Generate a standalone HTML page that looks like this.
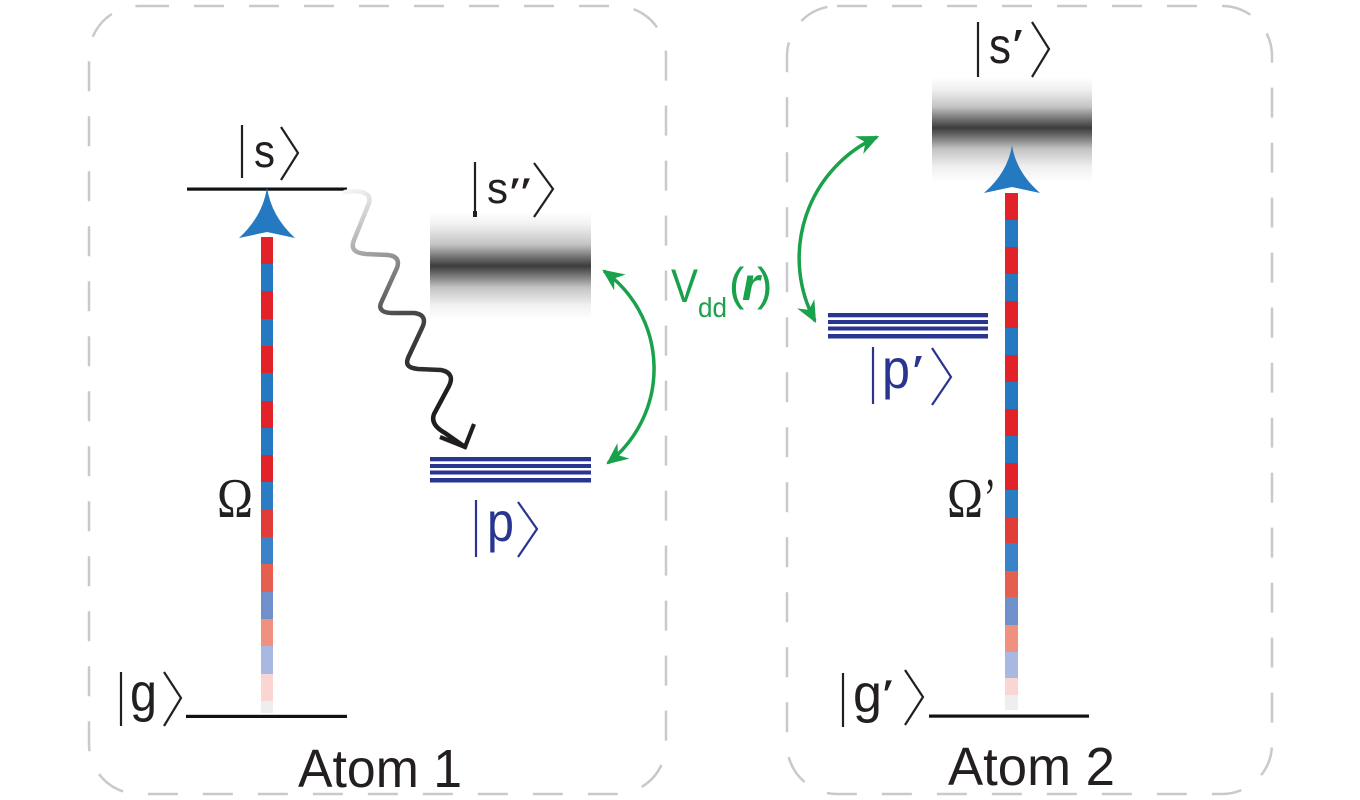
<!DOCTYPE html>
<html><head><meta charset="utf-8"><style>
html,body{margin:0;padding:0;background:#fff;}
svg{display:block;}
.t{font-family:"Liberation Sans","DejaVu Sans",sans-serif;fill:#231f20;}
.serif{font-family:"Liberation Serif",serif;fill:#231f20;}
.ket{stroke:#231f20;stroke-width:2.2;fill:none;}
.ketb{stroke:#2a3590;stroke-width:2.2;fill:none;}
</style></head><body>
<svg width="1360" height="800" viewBox="0 0 1360 800" xmlns="http://www.w3.org/2000/svg">
<defs>
  <linearGradient id="gb1" x1="0" y1="0" x2="0" y2="1">
    <stop offset="0" stop-color="#fff"/>
    <stop offset="0.12" stop-color="#f0f0f0"/>
    <stop offset="0.3" stop-color="#c4c4c4"/>
    <stop offset="0.42" stop-color="#707070"/>
    <stop offset="0.5" stop-color="#3c3c3c"/>
    <stop offset="0.58" stop-color="#707070"/>
    <stop offset="0.7" stop-color="#c4c4c4"/>
    <stop offset="0.86" stop-color="#f0f0f0"/>
    <stop offset="1" stop-color="#fff"/>
  </linearGradient>
  <linearGradient id="gb2" x1="0" y1="0" x2="0" y2="1">
    <stop offset="0" stop-color="#fff"/>
    <stop offset="0.12" stop-color="#f0f0f0"/>
    <stop offset="0.28" stop-color="#c4c4c4"/>
    <stop offset="0.4" stop-color="#707070"/>
    <stop offset="0.48" stop-color="#3c3c3c"/>
    <stop offset="0.56" stop-color="#707070"/>
    <stop offset="0.68" stop-color="#c4c4c4"/>
    <stop offset="0.85" stop-color="#f0f0f0"/>
    <stop offset="1" stop-color="#fff"/>
  </linearGradient>
  <linearGradient id="wg" gradientUnits="userSpaceOnUse" x1="345" y1="192" x2="430" y2="400">
    <stop offset="0" stop-color="#f4f4f4"/>
    <stop offset="0.3" stop-color="#a0a0a0"/>
    <stop offset="0.6" stop-color="#4a4a4a"/>
    <stop offset="1" stop-color="#1e1e1e"/>
  </linearGradient>
  <marker id="gh" markerUnits="userSpaceOnUse" markerWidth="30" markerHeight="30" viewBox="-22 -12 26 24" refX="-2" refY="0" orient="auto-start-reverse">
    <path d="M0,0 L-19,-8.5 L-13,0 L-19,8.5 Z" fill="#1aa14b"/>
  </marker>
</defs>

<!-- dashed boxes -->
<rect x="89" y="6" width="577" height="788" rx="50" ry="50" fill="none" stroke="#c9c9c9" stroke-width="2.5" stroke-dasharray="30 25"/>
<rect x="787" y="6" width="485" height="788" rx="50" ry="50" fill="none" stroke="#c9c9c9" stroke-width="2.5" stroke-dasharray="30 25"/>

<!-- Atom 1 levels -->
<rect x="187" y="187.5" width="160" height="3.2" fill="#111"/>
<rect x="186" y="714.8" width="161" height="3.2" fill="#111"/>

<!-- Atom 1 striped arrow -->
<g>
<rect x="261" y="237" width="12" height="27" fill="#e12329"/>
<rect x="261" y="264" width="12" height="27" fill="#2479c1"/>
<rect x="261" y="291" width="12" height="28" fill="#e12329"/>
<rect x="261" y="319" width="12" height="27" fill="#2479c1"/>
<rect x="261" y="346" width="12" height="27" fill="#e12329"/>
<rect x="261" y="373" width="12" height="28" fill="#2479c1"/>
<rect x="261" y="401" width="12" height="27" fill="#e12329"/>
<rect x="261" y="428" width="12" height="27" fill="#2479c1"/>
<rect x="261" y="455" width="12" height="27" fill="#e12329"/>
<rect x="261" y="482" width="12" height="28" fill="#2a7cc3"/>
<rect x="261" y="510" width="12" height="27" fill="#e03c38"/>
<rect x="261" y="537" width="12" height="27" fill="#3c82c8"/>
<rect x="261" y="564" width="12" height="28" fill="#e65e4e"/>
<rect x="261" y="592" width="12" height="27" fill="#7090cc"/>
<rect x="261" y="619" width="12" height="27" fill="#f0907e"/>
<rect x="261" y="646" width="12" height="28" fill="#a8b8e0"/>
<rect x="261" y="674" width="12" height="27" fill="#f9d6d2"/>
<rect x="261" y="701" width="12" height="12" fill="#eeeeee"/>
</g>
<path d="M267,187 Q263,216 239,238 L267,232 L295,238 Q271,216 267,187 Z" fill="#2479c1"/>

<!-- |s> label -->
<line class="ket" x1="242" y1="125" x2="242" y2="178"/>
<text class="t" x="254" y="167" font-size="46" textLength="21" lengthAdjust="spacingAndGlyphs">s</text>
<polyline class="ket" points="281,127 298,153 281,180"/>

<!-- |g> label -->
<line class="ket" x1="121" y1="672" x2="121" y2="726"/>
<text class="t" x="130" y="711" font-size="54" textLength="27" lengthAdjust="spacingAndGlyphs">g</text>
<polyline class="ket" points="164,672 181,698 164,726"/>

<!-- Omega -->
<text class="serif" x="217" y="517" font-size="56" textLength="36" lengthAdjust="spacingAndGlyphs">Ω</text>

<!-- |s''> box and label -->
<rect x="430" y="212" width="161" height="108" fill="url(#gb1)"/>
<line class="ket" x1="475" y1="162" x2="475" y2="216" stroke-width="2.4"/>
<rect x="473" y="211" width="4" height="6" fill="#231f20"/>
<text class="t" x="487" y="203" font-size="44" textLength="21" lengthAdjust="spacingAndGlyphs">s</text>
<text class="t" x="509" y="206" font-size="40" textLength="22" lengthAdjust="spacingAndGlyphs">′′</text>
<polyline class="ket" points="534,163 553,189 534,217"/>

<!-- |p> levels and label -->
<g fill="#2a3590">
<rect x="430" y="457" width="161" height="4.3"/>
<rect x="430" y="464" width="161" height="4"/>
<rect x="430" y="470.5" width="161" height="4"/>
<rect x="430" y="478" width="161" height="4.5"/>
</g>
<line class="ketb" x1="476" y1="500" x2="476" y2="557"/>
<text x="487" y="541" font-size="56" textLength="27" lengthAdjust="spacingAndGlyphs" style="font-family:'Liberation Sans',sans-serif;fill:#2a3590;">p</text>
<polyline class="ketb" points="518,502 537,529 518,557"/>

<!-- wavy decay arrow -->
<path d="M345,192 C360,190 372,192 369,203 L354,240 C350,250 356,253 366,254 L388,255 C398,256 400,262 396,270 L381,303 C378,310 384,313 392,313 L414,313 C424,314 426,320 422,328 L408,358 C405,366 410,368 418,369 L441,370 C451,372 453,378 449,386 L434,414 C431,422 436,428 445,433 L465,447" fill="none" stroke="url(#wg)" stroke-width="4.5" stroke-linecap="round" stroke-linejoin="round"/>
<polyline points="474,424 465,447 440,437" fill="none" stroke="#1e1e1e" stroke-width="4.2" stroke-linejoin="miter"/>

<!-- green arrow atom 1 -->
<path d="M604,271 A120 120 0 0 1 608,463" fill="none" stroke="#1aa14b" stroke-width="3.5" marker-start="url(#gh)" marker-end="url(#gh)"/>

<!-- Vdd(r) -->
<g style="font-family:'Liberation Sans',sans-serif;fill:#1aa14b;">
<text x="671" y="302" font-size="47" textLength="27" lengthAdjust="spacingAndGlyphs">V</text>
<text x="698" y="317" font-size="28" textLength="29" lengthAdjust="spacingAndGlyphs">dd</text>
<text x="729" y="300" font-size="46">(</text>
<text x="742" y="300" font-size="46" font-weight="bold" font-style="italic">r</text>
<text x="757" y="300" font-size="46">)</text>
</g>

<!-- green arrow atom 2 -->
<path d="M877,137 A133 133 0 0 0 815,321" fill="none" stroke="#1aa14b" stroke-width="3.5" marker-start="url(#gh)" marker-end="url(#gh)"/>

<!-- Atom 2: |s'> box -->
<rect x="932" y="77" width="160" height="106" fill="url(#gb2)"/>
<line class="ket" x1="978" y1="22" x2="978" y2="77"/>
<text class="t" x="989" y="63" font-size="50" textLength="22" lengthAdjust="spacingAndGlyphs">s</text>
<text class="t" x="1012" y="60" font-size="44" textLength="11" lengthAdjust="spacingAndGlyphs">′</text>
<polyline class="ket" points="1032,22 1049,49 1032,77"/>

<!-- Atom 2 striped arrow -->
<g>
<rect x="1005" y="193" width="13" height="27" fill="#e12329"/>
<rect x="1005" y="220" width="13" height="27" fill="#2479c1"/>
<rect x="1005" y="247" width="13" height="27" fill="#e12329"/>
<rect x="1005" y="274" width="13" height="27" fill="#2479c1"/>
<rect x="1005" y="301" width="13" height="27" fill="#e12329"/>
<rect x="1005" y="328" width="13" height="27" fill="#2479c1"/>
<rect x="1005" y="355" width="13" height="27" fill="#e12329"/>
<rect x="1005" y="382" width="13" height="27" fill="#2479c1"/>
<rect x="1005" y="409" width="13" height="27" fill="#e12329"/>
<rect x="1005" y="436" width="13" height="27" fill="#2479c1"/>
<rect x="1005" y="463" width="13" height="27" fill="#e12329"/>
<rect x="1005" y="490" width="13" height="27" fill="#2a7cc3"/>
<rect x="1005" y="517" width="13" height="26" fill="#e03c38"/>
<rect x="1005" y="543" width="13" height="28" fill="#3c82c8"/>
<rect x="1005" y="571" width="13" height="26" fill="#e65e4e"/>
<rect x="1005" y="597" width="13" height="28" fill="#7090cc"/>
<rect x="1005" y="625" width="13" height="27" fill="#f0907e"/>
<rect x="1005" y="652" width="13" height="26" fill="#a8b8e0"/>
<rect x="1005" y="678" width="13" height="17" fill="#f9d6d2"/>
<rect x="1005" y="695" width="13" height="15" fill="#eeeeee"/>
</g>
<path d="M1012,145 Q1008,172 984,193 L1012,187 L1040,193 Q1016,172 1012,145 Z" fill="#2479c1"/>

<!-- |p'> -->
<g fill="#2a3590">
<rect x="828" y="313" width="160" height="4.3"/>
<rect x="828" y="320" width="160" height="4"/>
<rect x="828" y="326.5" width="160" height="4"/>
<rect x="828" y="334" width="160" height="4.5"/>
</g>
<line class="ketb" x1="873" y1="347" x2="873" y2="404"/>
<text x="882" y="388" font-size="56" textLength="28" lengthAdjust="spacingAndGlyphs" style="font-family:'Liberation Sans',sans-serif;fill:#2a3590;">p</text>
<text x="912" y="386" font-size="44" textLength="11" lengthAdjust="spacingAndGlyphs" style="font-family:'Liberation Sans','DejaVu Sans',sans-serif;fill:#2a3590;">′</text>
<polyline class="ketb" points="932,348 951,377 932,405"/>

<!-- |g'> -->
<rect x="929" y="714.5" width="160" height="3.2" fill="#111"/>
<line class="ket" x1="843" y1="673" x2="843" y2="727"/>
<text class="t" x="853" y="712" font-size="54" textLength="29" lengthAdjust="spacingAndGlyphs">g</text>
<text class="t" x="882" y="708" font-size="40" textLength="11" lengthAdjust="spacingAndGlyphs">′</text>
<polyline class="ket" points="905,670 923,697 905,725"/>

<!-- Omega' -->
<text class="serif" x="947" y="517" font-size="56" textLength="36" lengthAdjust="spacingAndGlyphs">Ω</text>
<text class="serif" x="984" y="517" font-size="56" textLength="12" lengthAdjust="spacingAndGlyphs">’</text>

<!-- Atom labels -->
<text class="t" x="298" y="787" font-size="54" textLength="164" lengthAdjust="spacingAndGlyphs">Atom 1</text>
<text class="t" x="948" y="785" font-size="54" textLength="167" lengthAdjust="spacingAndGlyphs">Atom 2</text>
</svg>
</body></html>
